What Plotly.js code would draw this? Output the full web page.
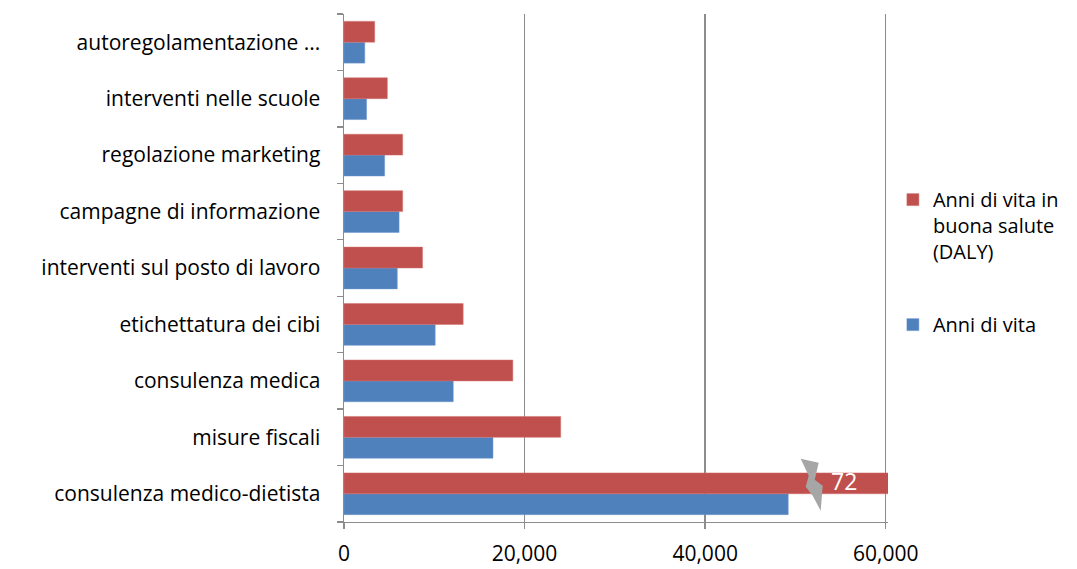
<!DOCTYPE html>
<html>
<head>
<meta charset="utf-8">
<script src="https://cdn.plot.ly/plotly-3.0.1.min.js"></script>
<style>html,body{margin:0;padding:0;background:#fff;} #chart{width:1077px;height:569px;}</style>
</head>
<body>
<div id="chart"></div>
<script>
const categories = [
  "consulenza medico-dietista",
  "misure fiscali",
  "consulenza medica",
  "etichettatura dei cibi",
  "interventi sul posto di lavoro",
  "campagne di informazione",
  "regolazione marketing",
  "interventi nelle scuole",
  "autoregolamentazione ..."
];
const anniDiVita = [49200, 16500, 12100, 10100, 5900, 6100, 4500, 2500, 2300];
const anniBuonaSalute = [72000, 24000, 18700, 13200, 8700, 6500, 6500, 4800, 3400];
const xTickVals = [0, 20000, 40000, 60000];
const xTickText = ["0", "20,000", "40,000", "60,000"];
const breakLabel = "72";

const FONT = "'Open Sans', Lato, sans-serif";
const FS = 21;

const traces = [
  {
    type: "bar", orientation: "h", name: "Anni di vita",
    y: categories, x: anniDiVita, legendgroup: "b", legendrank: 2,
    marker: {color: "#4F81BD", line: {color: "#6f97cc", width: 0.5}},
    hoverinfo: "x+y"
  },
  {
    type: "bar", orientation: "h", name: "Anni di vita in<br>buona salute<br>(DALY)",
    y: categories, x: anniBuonaSalute, legendgroup: "a", legendrank: 1,
    marker: {color: "#C0504D", line: {color: "#d07370", width: 0.5}},
    hoverinfo: "x+y"
  }
];

const brokenIdx = 0;
const breakX = 51800;
const boltPath = "M -11 35 L 7 31 L 3 14 L 11 8 L 9 -17 L 1 -2 L -6 7 L -3 18 Z";

const layout = {
  width: 1077, height: 569,
  margin: {l: 344, r: 189, t: 14, b: 47},
  paper_bgcolor: "#fff", plot_bgcolor: "#fff",
  font: {family: FONT, size: FS, color: "#000"},
  barmode: "group", bargap: 0.26, bargroupgap: 0,
  showlegend: true,
  legend: {
    x: 1.009, xanchor: "left", y: 0.673, yanchor: "top",
    traceorder: "grouped", tracegroupgap: 44, valign: "top",
    font: {family: FONT, size: 20, color: "#000"},
    itemwidth: 30
  },
  xaxis: {
    range: [0, 60250], tickvals: xTickVals, ticktext: xTickText,
    showgrid: true, gridcolor: "#8c8c8c", gridwidth: 1.4,
    zeroline: false, showline: true, linecolor: "#8c8c8c", linewidth: 1.4,
    ticks: "outside", ticklen: 6, tickcolor: "#8c8c8c", tickwidth: 1.4,
    ticklabelstandoff: 6,
    tickfont: {family: FONT, size: FS, color: "#000"},
    fixedrange: true
  },
  yaxis: {
    type: "category", categoryorder: "array", categoryarray: categories,
    tickson: "boundaries", ticks: "outside", ticklen: 6, tickcolor: "#8c8c8c", tickwidth: 1.4,
    showline: true, linecolor: "#8c8c8c", linewidth: 1.4, showgrid: false,
    ticklabelstandoff: 18,
    tickfont: {family: FONT, size: FS, color: "#000"},
    fixedrange: true
  },
  shapes: [{
    type: "path", xref: "x", yref: "y",
    xsizemode: "pixel", ysizemode: "pixel",
    xanchor: breakX, yanchor: categories[brokenIdx],
    path: boltPath,
    fillcolor: "#a6a6a6", line: {width: 0}, layer: "above"
  }],
  annotations: [{
    xref: "x", yref: "y", x: 55400, y: categories[brokenIdx], yshift: 13,
    text: breakLabel, showarrow: false,
    font: {family: FONT, size: 23, color: "#ffffff"}
  }]
};

Plotly.newPlot("chart", traces, layout, {displayModeBar: false, staticPlot: true});
</script>
</body>
</html>
